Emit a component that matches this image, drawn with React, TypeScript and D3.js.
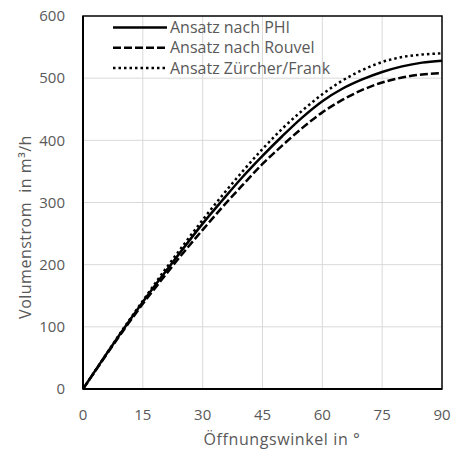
import React from 'react';
import * as d3 from 'd3';

const angles = [0, 5, 10, 15, 20, 25, 30, 35, 40, 45, 50, 55, 60, 65, 70, 75, 80, 85, 90];
const phi = [0, 48, 95, 140, 183, 225, 266, 304, 341, 375, 407, 437, 463, 483, 498, 510, 519, 525, 528];
const rouvel = [0, 47, 93, 137, 178, 218, 256, 293, 328, 362, 392, 420, 445, 465, 481, 493, 501, 506, 508];
const zuercher = [0, 48, 96, 142, 187, 230, 272, 312, 350, 386, 419, 448, 474, 496, 513, 526, 534, 538, 540];
const xTicks = [0, 15, 30, 45, 60, 75, 90];
const yTicks = [0, 100, 200, 300, 400, 500, 600];
const seriesNames = ['Ansatz nach PHI', 'Ansatz nach Rouvel', 'Ansatz Zürcher/Frank'];

const W = 462;
const H = 450;
const margin = { top: 16, right: 20, bottom: 61, left: 83 };
const font = '"Open Sans", sans-serif';
const textColor = '#595959';

const App = () => {
  const x = d3.scaleLinear().domain([0, 90]).range([margin.left, W - margin.right]);
  const y = d3.scaleLinear().domain([0, 600]).range([H - margin.bottom, margin.top]);

  const line = d3
    .line<number>()
    .x((_, i) => x(angles[i]))
    .y((d) => y(d))
    .curve(d3.curveMonotoneX);

  const series = [
    { name: seriesNames[0], values: phi, dash: 'none' },
    { name: seriesNames[1], values: rouvel, dash: '8 3' },
    { name: seriesNames[2], values: zuercher, dash: '2.5 3' },
  ];

  return (
    <svg width={W} height={H} style={{ position: 'absolute', left: 0, top: 0 }}>
      <rect width={W} height={H} fill="#fff" />
      {xTicks.slice(1, -1).map((t) => (
        <line key={'gx' + t} x1={x(t)} x2={x(t)} y1={y(0)} y2={y(600)} stroke="#d9d9d9" strokeWidth={1} />
      ))}
      {yTicks.slice(1, -1).map((t) => (
        <line key={'gy' + t} x1={x(0)} x2={x(90)} y1={y(t)} y2={y(t)} stroke="#d9d9d9" strokeWidth={1} />
      ))}
      <rect
        x={x(0)}
        y={y(600)}
        width={x(90) - x(0)}
        height={y(0) - y(600)}
        fill="none"
        stroke="#000"
        strokeWidth={1.5}
      />
      <line x1={x(0)} x2={x(0)} y1={y(0)} y2={y(600)} stroke="#000" strokeWidth={2} />
      <line x1={x(0)} x2={x(90)} y1={y(0)} y2={y(0)} stroke="#000" strokeWidth={2} />

      {series.map((s) => (
        <path
          key={s.name}
          d={line(s.values) || ''}
          fill="none"
          stroke="#000"
          strokeWidth={2.5}
          strokeDasharray={s.dash}
        />
      ))}

      {yTicks.map((t) => (
        <text
          key={'ty' + t}
          x={65}
          y={y(t)}
          dy="0.35em"
          textAnchor="end"
          fontFamily={font}
          fontSize={15}
          fill={textColor}
        >
          {t}
        </text>
      ))}
      {xTicks.map((t) => (
        <text
          key={'tx' + t}
          x={x(t)}
          y={420}
          textAnchor="middle"
          fontFamily={font}
          fontSize={15}
          fill={textColor}
        >
          {t}
        </text>
      ))}

      <text
        x={282}
        y={445}
        textAnchor="middle"
        fontFamily={font}
        fontSize={16}
        letterSpacing={0.6}
        fill={textColor}
      >
        Öffnungswinkel in °
      </text>
      <text
        transform="translate(31,227) rotate(-90)"
        textAnchor="middle"
        fontFamily={font}
        fontSize={16}
        letterSpacing={0.5}
        fill={textColor}
        style={{ whiteSpace: 'pre' }}
      >
        {'Volumenstrom  in m³/h'}
      </text>

      {series.map((s, i) => {
        const ly = 27.5 + i * 20.2;
        return (
          <g key={'lg' + s.name}>
            <line x1={113} x2={167} y1={ly} y2={ly} stroke="#000" strokeWidth={2.5} strokeDasharray={s.dash} />
            <text x={170} y={ly} dy="0.35em" fontFamily={font} fontSize={16} fill={textColor}>
              {s.name}
            </text>
          </g>
        );
      })}
    </svg>
  );
};

export default App;
